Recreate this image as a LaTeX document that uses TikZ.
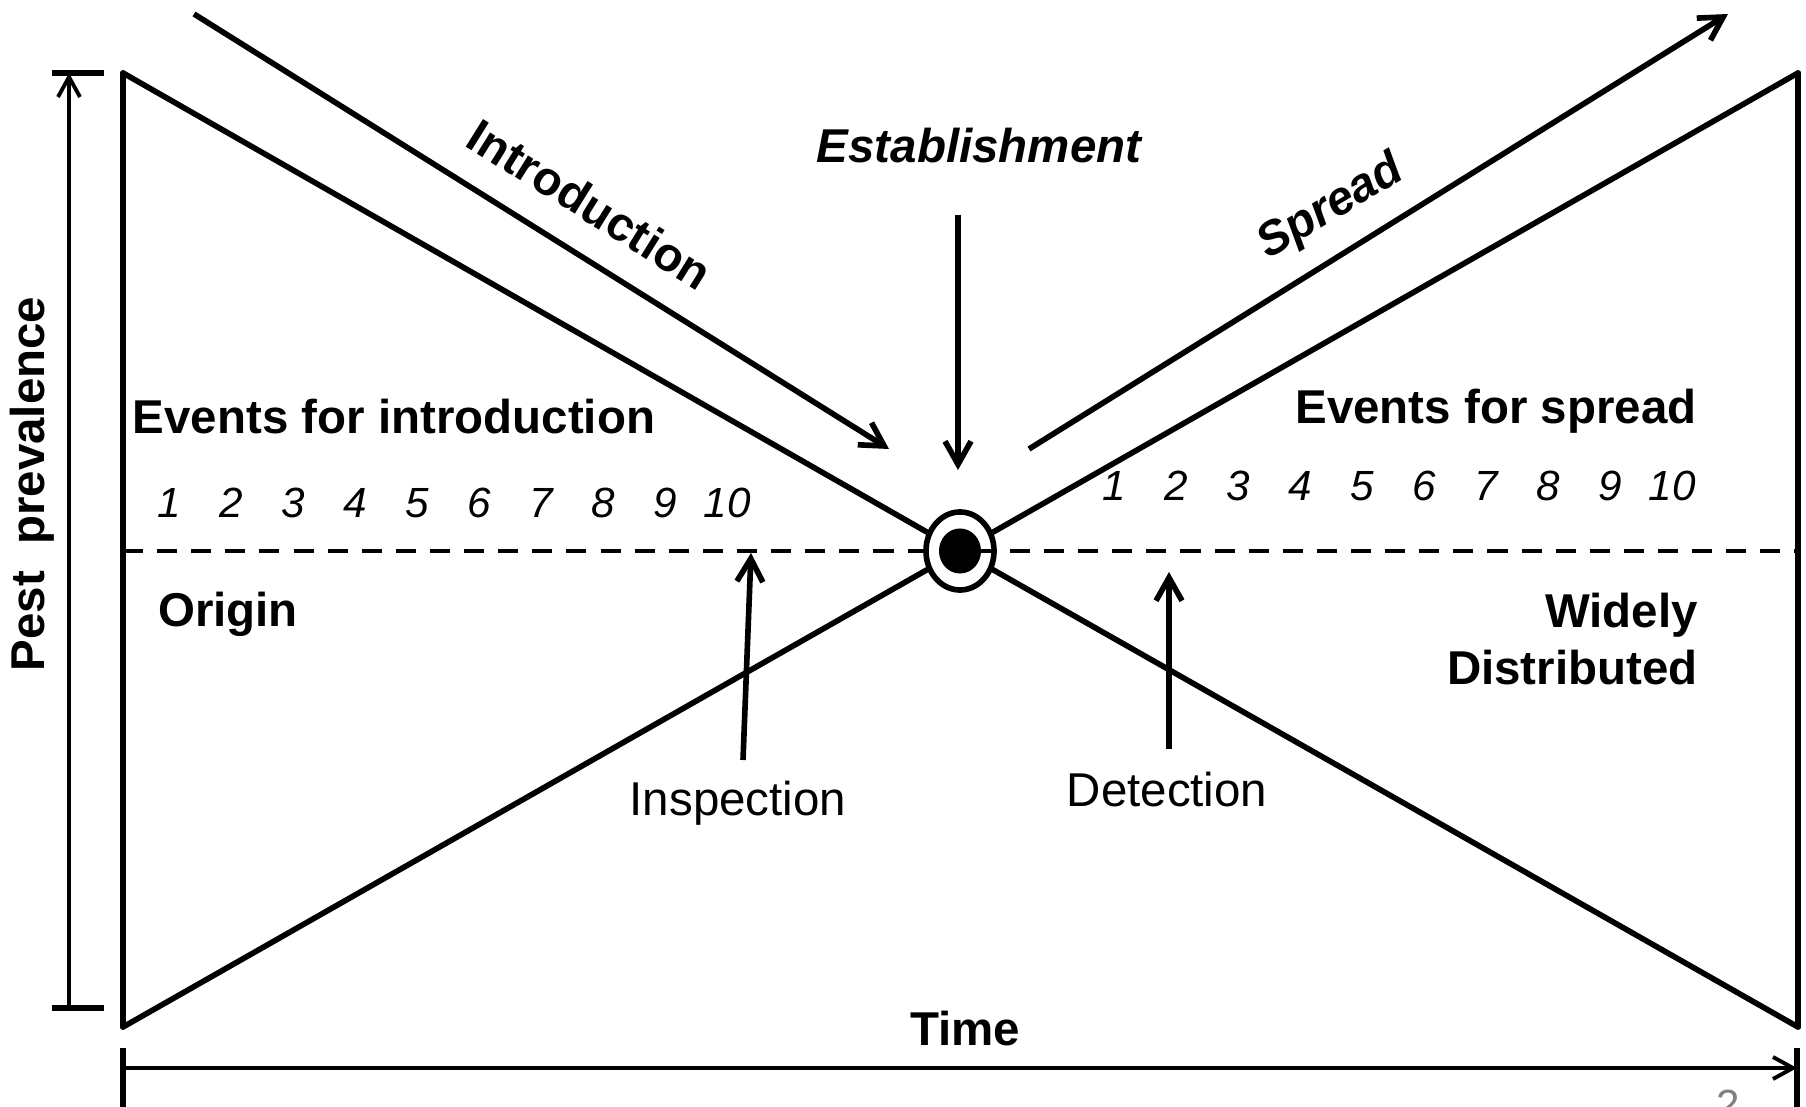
\documentclass[tikz,border=0pt]{standalone}
\usepackage{fontspec}
\setmainfont{Liberation Sans}
\usetikzlibrary{arrows.meta,shapes.geometric}

\begin{document}
\begin{tikzpicture}[x=0.01cm, y=-0.01cm,
  edge/.style={line width=1.6pt, line cap=round, line join=round},
  flow/.style={line width=1.6pt, -{Straight Barb[length=2.3mm, width=2.6mm]}},
  axis/.style={line width=1.1pt},
  tickbar/.style={line width=1.8pt},
  heading/.style={font=\fontsize{13.5}{16}\selectfont\bfseries},
  plain/.style={font=\fontsize{13.5}{16}\selectfont},
  num/.style={font=\fontsize{12}{14}\selectfont\itshape},
  hub/.style={ellipse, draw, fill=white, line width=1.6pt, minimum width=6.8mm, minimum height=7.8mm, inner sep=0pt},
  dot/.style={ellipse, fill, minimum width=4.2mm, minimum height=4.5mm, inner sep=0pt}
]
\useasboundingbox (0,0) rectangle (1806,1107);

% hourglass
\coordinate (tl) at (123,73);
\coordinate (bl) at (123,1027);
\coordinate (tr) at (1798,73);
\coordinate (br) at (1798,1027);
\coordinate (ml) at (123,551);
\coordinate (mr) at (1798,551);
\node[hub] (hub) at (960,551) {};
\draw[edge] (tl) -- (bl);
\draw[edge] (tr) -- (br);
\draw[edge] (tl) -- (hub);
\draw[edge] (bl) -- (hub);
\draw[edge] (tr) -- (hub);
\draw[edge] (br) -- (hub);
\draw[line width=1.4pt, dash pattern=on 5.7pt off 4pt] (ml) -- (mr);
\node[dot] (core) at (hub) {};

% axes
\coordinate (ytop) at (69,73);
\coordinate (ybot) at (69,1008);
\draw[axis, -{Straight Barb[length=2mm, width=2.2mm]}] (ybot) -- (ytop);
\draw[tickbar] ([xshift=-0.17cm]ytop) -- ([xshift=0.35cm]ytop);
\draw[tickbar] ([xshift=-0.17cm]ybot) -- ([xshift=0.35cm]ybot);
\coordinate (xl) at (123,1068);
\coordinate (xr) at (1797,1068);
\draw[axis, -{Straight Barb[length=2mm, width=2.2mm]}] (xl) -- (xr);
\draw[tickbar] ([yshift=0.2cm]xl) -- ([yshift=-0.5cm]xl);
\draw[tickbar] ([yshift=0.2cm]xr) -- ([yshift=-0.5cm]xr);
\node[heading, rotate=90] (prev) at (32,484) {Pest~~prevalence};
\node[heading] (time) at (965,1029) {Time};

% stages
\coordinate (introS) at (194,14);
\coordinate (introE) at (889,449);
\draw[flow] (introS) -- (introE);
\node[heading, rotate=-32] (intro) at (590,204) {Introduction};
\coordinate (estS) at (958,215);
\coordinate (estE) at (958,470);
\draw[flow] (estS) -- (estE);
\node[heading, font=\fontsize{13.5}{16}\selectfont\bfseries\itshape] (est) at (979,146) {Establishment};
\coordinate (sprS) at (1029,449);
\coordinate (sprE) at (1728,14);
\draw[flow] (sprS) -- (sprE);
\node[heading, font=\fontsize{13.5}{16}\selectfont\bfseries\itshape, rotate=31] (spr) at (1331,208) {Spread};

% events
\node[heading] (evin) at (394,417) {Events for introduction};
\node[heading] (evsp) at (1496,411) {Events for spread};
\foreach \i in {1,...,10} {
  \node[num] (in\i) at ({107+62*\i},503) {\i};
  \node[num] (sp\i) at ({1052+62*\i},486) {\i};
}
\node[heading] (orig) at (228,614) {Origin};
\node[heading, align=right, anchor=east] (wide) at (1710,639) {Widely\\Distributed};

% controls
\coordinate (insS) at (743,760);
\coordinate (insE) at (751,553);
\draw[flow] (insS) -- (insE);
\node[plain] (insp) at (738,803) {Inspection};
\coordinate (detS) at (1169,749);
\coordinate (detE) at (1169,572);
\draw[flow] (detS) -- (detE);
\node[plain] (detc) at (1167,790) {Detection};

\node[num, font=\fontsize{12}{14}\selectfont, text=gray, anchor=north, inner sep=0pt] (page) at (1728,1089) {2};
\end{tikzpicture}
\end{document}
